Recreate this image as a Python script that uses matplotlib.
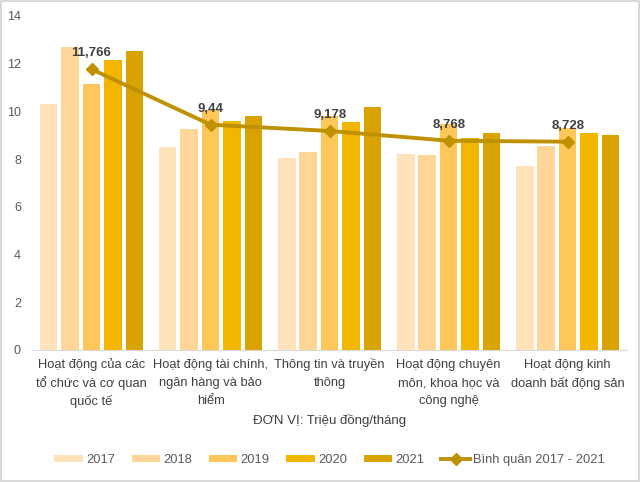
import numpy as np
import matplotlib.pyplot as plt

plt.rcParams['font.family'] = ['Liberation Sans', 'DejaVu Sans']

# data
categories = ["Hoạt động của các\ntổ chức và cơ quan\nquốc tế",
              "Hoạt động tài chính,\nngân hàng và bảo\nhiểm",
              "Thông tin và truyền\nthông",
              "Hoạt động chuyên\nmôn, khoa học và\ncông nghệ",
              "Hoạt động kinh\ndoanh bất động sản"]
years = ["2017", "2018", "2019", "2020", "2021"]
v2017 = [10.3, 8.5, 8.05, 8.2, 7.7]
v2018 = [12.7, 9.25, 8.3, 8.15, 8.55]
v2019 = [11.15, 10.05, 9.8, 9.45, 9.3]
v2020 = [12.15, 9.6, 9.55, 8.9, 9.1]
v2021 = [12.55, 9.8, 10.2, 9.1, 9.0]
avg = [11.766, 9.44, 9.178, 8.768, 8.728]
avg_labels = ["11,766", "9,44", "9,178", "8,768", "8,728"]
avg_name = "Bình quân 2017 - 2021"

colors = ["#FFE2BA", "#FFD698", "#FFC75A", "#F2B600", "#D8A300"]
line_color = "#BF9000"

fig = plt.figure(figsize=(6.4, 4.82), dpi=100)
fig.patch.set_edgecolor("#D9D9D9")
fig.patch.set_linewidth(1.5)
ax = fig.add_axes([0.05, 0.274, 0.93, 0.693])

x = np.arange(len(categories))
slot = 0.18
for i, (yr, vals) in enumerate(zip(years, [v2017, v2018, v2019, v2020, v2021])):
    ax.bar(x + (i - 2) * slot, vals, width=slot * 0.82, color=colors[i], label=yr, zorder=2)

ax.plot(x, avg, color=line_color, lw=2.8, marker="D", markersize=6,
        label=avg_name, zorder=3)
for xi, yi, t in zip(x, avg, avg_labels):
    ax.annotate(t, (xi, yi), xytext=(0, 7), textcoords="offset points",
                ha="center", va="bottom", fontsize=9.5, fontweight="bold",
                color="#404040", zorder=4)

ax.set_xlim(-0.5, 4.5)
ax.set_ylim(0, 14)
ax.set_yticks(range(0, 15, 2))
ax.set_xticks(x)
ax.set_xticklabels([])
# category labels, one text per line so the line spacing stays even
tr = ax.get_xaxis_transform()
for xi, cat in zip(x, categories):
    for k, line in enumerate(cat.split("\n")):
        ax.text(xi, -0.045 - k * 0.054, line, transform=tr, ha="center", va="center",
                fontsize=9.3, color="#404040")

ax.tick_params(axis="y", length=0, labelsize=9, labelcolor="#595959", pad=8)
ax.tick_params(axis="x", length=0)
for s in ["top", "right", "left"]:
    ax.spines[s].set_visible(False)
ax.spines["bottom"].set_color("#D9D9D9")
ax.text(0.5, -0.21, "ĐƠN VỊ: Triệu đồng/tháng", transform=ax.transAxes,
        ha="center", va="center", fontsize=9.5, color="#404040")

handles, labels = ax.get_legend_handles_labels()
handles = handles[1:] + handles[:1]
labels = labels[1:] + labels[:1]
ax.legend(handles, labels, loc="center", bbox_to_anchor=(0.5, -0.33), ncol=6,
          frameon=False, fontsize=9.3, labelcolor="#595959", handlelength=2.2,
          handleheight=0.55, columnspacing=1.3, handletextpad=0.25)

fig.savefig("out.png", dpi=100)
